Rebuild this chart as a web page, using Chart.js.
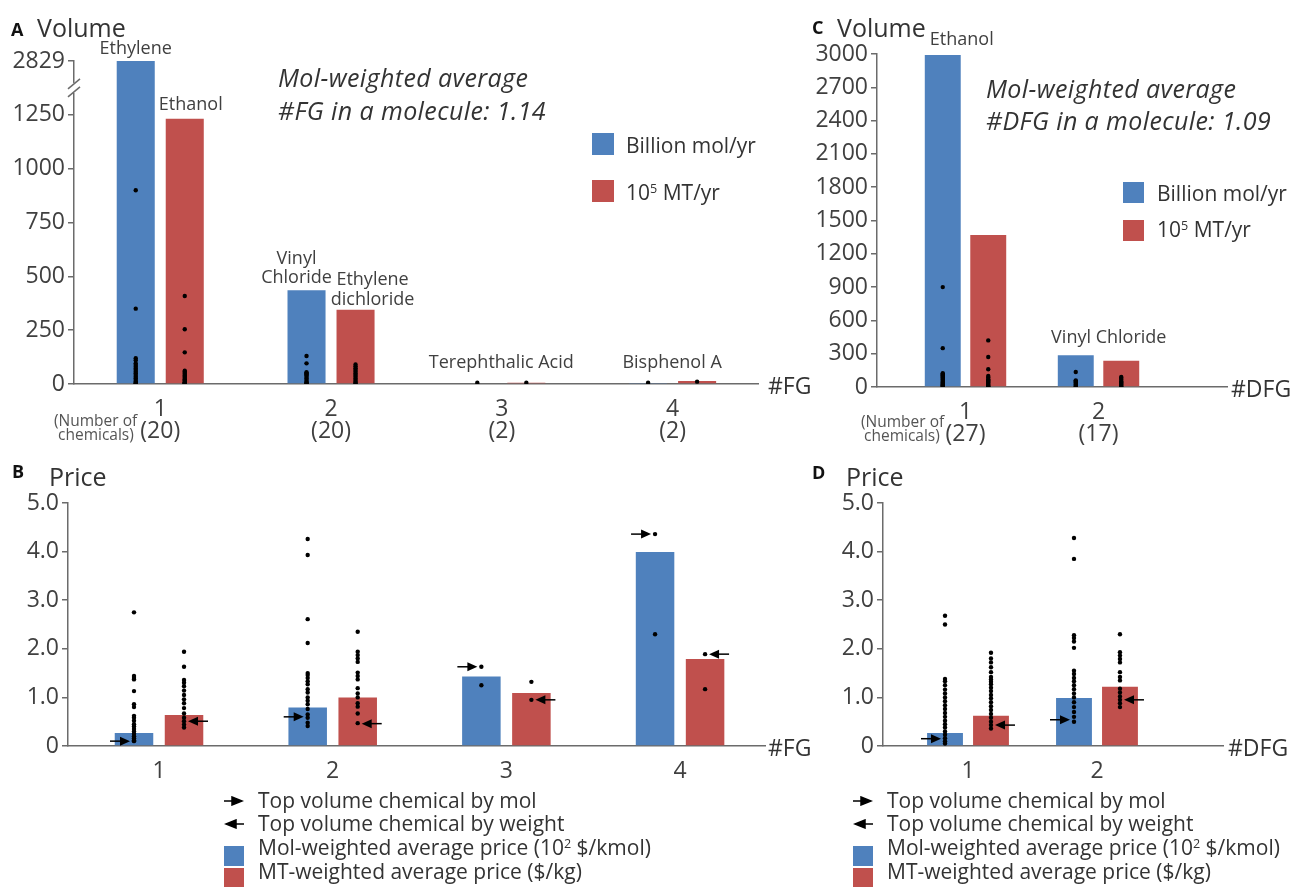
<!DOCTYPE html>
<html>
<head>
<meta charset="utf-8">
<script src="https://cdn.jsdelivr.net/npm/chart.js@4"></script>
<style>
  body { margin: 0; width: 1295px; height: 887px; position: relative; overflow: hidden; background: #fff;
         font-family: 'Open Sans', sans-serif; color: #404040; }
  canvas { position: absolute; }
  .t { position: absolute; white-space: nowrap; line-height: 1; transform: translateY(-50%); }
  .t sup { font-size: 0.6em; vertical-align: baseline; position: relative; top: -0.55em; }
  .sq { position: absolute; }
</style>
</head>
<body>
<canvas id="chartA" width="800" height="460" style="left:0;top:0"></canvas>
<canvas id="chartB" width="800" height="330" style="left:0;top:460px"></canvas>
<canvas id="chartC" width="495" height="460" style="left:800px;top:0"></canvas>
<canvas id="chartD" width="495" height="330" style="left:800px;top:460px"></canvas>
<script>
// ---- data: #FG panels (A, B) ----
const fgCats = [1, 2, 3, 4];
const fgCounts = [20, 20, 2, 2];
const volMolFG = [2829, 435, 4, 5];       // billion mol/yr
const volWtFG = [1232, 345, 6, 14];       // 10^5 MT/yr
const volMolFGDots = [
  [900, 350, 120, 110, 96, 88, 80, 72, 65, 57, 50, 42, 34, 27, 19, 12, 6, 3, 1],
  [130, 96, 55, 50, 45, 40, 33, 25, 18, 11, 6, 3, 1],
  [6],
  [6]
];
const volWtFGDots = [
  [409, 254, 147, 62, 57, 51, 46, 40, 34, 28, 22, 17, 11, 8, 5, 3, 2, 1],
  [91, 82, 73, 65, 57, 49, 42, 34, 26, 18, 11, 5, 1],
  [6],
  [11]
];
const volTicksFG = [0, 250, 500, 750, 1000, 1250, 1500];
const volTickLabelsFG = ['0', '250', '500', '750', '1000', '1250', '2829'];

const priceMolFG = [0.27, 0.79, 1.43, 3.99];
const priceWtFG = [0.64, 1.00, 1.09, 1.79];
const priceMolFGDots = [
  [2.75, 1.44, 1.40, 1.37, 1.13, 0.86, 0.80, 0.62, 0.58, 0.52, 0.45, 0.40, 0.35, 0.30, 0.25, 0.20, 0.16, 0.12, 0.10],
  [4.26, 3.93, 2.61, 2.12, 1.50, 1.46, 1.40, 1.33, 1.27, 1.17, 1.10, 1.00, 0.93, 0.86, 0.76, 0.65, 0.58, 0.48, 0.41],
  [1.63, 1.25],
  [4.36, 2.30]
];
const priceWtFGDots = [
  [1.94, 1.63, 1.36, 1.30, 1.23, 1.14, 1.05, 0.96, 0.88, 0.78, 0.67, 0.58, 0.51, 0.44, 0.38],
  [2.35, 1.94, 1.87, 1.80, 1.73, 1.51, 1.44, 1.37, 1.19, 1.08, 1.00, 0.88, 0.81, 0.67, 0.47],
  [1.32, 0.95],
  [1.89, 1.17]
];
const topMolPriceFG = [0.10, 0.60, 1.63, 4.36];
const topWtPriceFG = [0.51, 0.46, 0.95, 1.89];

// ---- data: #DFG panels (C, D) ----
const dfgCats = [1, 2];
const dfgCounts = [27, 17];
const volMolDFG = [2990, 285];
const volWtDFG = [1370, 237];
const volMolDFGDots = [
  [900, 350, 125, 115, 105, 95, 85, 75, 65, 55, 45, 38, 30, 22, 15, 8, 3],
  [135, 60, 50, 40, 30, 20, 10, 3]
];
const volWtDFGDots = [
  [420, 270, 160, 100, 85, 70, 60, 50, 40, 30, 20, 12, 5, 2],
  [90, 80, 65, 50, 40, 30, 20, 10, 3]
];
const volTicksDFG = [0, 300, 600, 900, 1200, 1500, 1800, 2100, 2400, 2700, 3000];

const priceMolDFG = [0.27, 0.99];
const priceWtDFG = [0.62, 1.22];
const priceMolDFGDots = [
  [2.68, 2.50, 1.38, 1.33, 1.25, 1.16, 1.08, 1.00, 0.92, 0.84, 0.76, 0.68, 0.60, 0.52, 0.45, 0.38, 0.30, 0.23, 0.16, 0.10, 0.05],
  [4.28, 3.85, 2.28, 2.22, 2.15, 2.02, 1.55, 1.48, 1.40, 1.33, 1.25, 1.17, 1.08, 1.00, 0.90, 0.80, 0.70, 0.60, 0.50]
];
const priceWtDFGDots = [
  [1.92, 1.80, 1.72, 1.62, 1.52, 1.42, 1.37, 1.32, 1.27, 1.20, 1.13, 1.05, 0.98, 0.90, 0.82, 0.74, 0.66, 0.58, 0.50, 0.43, 0.36],
  [2.30, 1.93, 1.86, 1.79, 1.72, 1.52, 1.42, 1.35, 1.18, 1.10, 1.02, 0.95, 0.88, 0.80]
];
const topMolPriceDFG = [0.15, 0.54];
const topWtPriceDFG = [0.43, 0.95];
const priceTicks = [0, 1, 2, 3, 4, 5];

const BLUE = '#4f81bd';
const RED = '#c0504d';
const AXIS = '#6b6b6b';
const TXT = '#404040';
Chart.defaults.font.family = "'Open Sans', sans-serif";

// arrows marking the top volume chemical
function drawArrow(ctx, tipX, y, dir) {
  ctx.beginPath();
  ctx.moveTo(tipX - dir * 20, y);
  ctx.lineTo(tipX - dir * 8, y);
  ctx.stroke();
  ctx.beginPath();
  ctx.moveTo(tipX, y);
  ctx.lineTo(tipX - dir * 10, y - 4.5);
  ctx.lineTo(tipX - dir * 10, y + 4.5);
  ctx.closePath();
  ctx.fill();
}

function arrowPlugin(cats, molY, wtY, off) {
  return {
    id: 'arrows',
    afterDatasetsDraw(chart) {
      const { ctx, scales: { x, y } } = chart;
      ctx.save();
      ctx.fillStyle = '#000';
      ctx.strokeStyle = '#000';
      ctx.lineWidth = 1.5;
      cats.forEach((c, i) => {
        drawArrow(ctx, x.getPixelForValue(c - off) - 4, y.getPixelForValue(molY[i]), 1);
        drawArrow(ctx, x.getPixelForValue(c + off) + 4, y.getPixelForValue(wtY[i]), -1);
      });
      ctx.restore();
    }
  };
}

// chemical names above bars
function barLabelPlugin(labels) {
  return {
    id: 'barLabels',
    afterDatasetsDraw(chart) {
      const { ctx, chartArea } = chart;
      ctx.save();
      ctx.font = "18px 'Open Sans'";
      ctx.fillStyle = TXT;
      ctx.textAlign = 'center';
      ctx.textBaseline = 'middle';
      labels.forEach(l => {
        const bar = chart.getDatasetMeta(l.ds).data[l.i];
        const top = Math.max(bar.y, chartArea.top);
        l.lines.forEach((s, k) => {
          ctx.fillText(s, bar.x + l.dx, top + l.dy - (l.lines.length - 1 - k) * 19.5);
        });
      });
      ctx.restore();
    }
  };
}

// broken y axis in panel A
const breakPlugin = {
  id: 'axisBreak',
  afterDraw(chart) {
    const { ctx } = chart;
    const y = chart.scales.y;
    const x0 = y.right;
    const yb = y.getPixelForValue(1375);
    ctx.save();
    ctx.fillStyle = '#fff';
    ctx.fillRect(x0 - 3, yb - 5, 6, 10);
    ctx.strokeStyle = AXIS;
    ctx.lineWidth = 1.5;
    [-4, 4].forEach(d => {
      ctx.beginPath();
      ctx.moveTo(x0 - 6, yb + d + 5);
      ctx.lineTo(x0 + 6, yb + d - 5);
      ctx.stroke();
    });
    ctx.restore();
  }
};

function panel(id, o) {
  const off = o.catPct / 4;
  const pts = (groups, sign) => groups.flatMap((g, i) => g.map(v => ({ x: o.cats[i] + sign * off, y: v })));
  const dot = { type: 'scatter', backgroundColor: '#000', borderColor: '#000', borderWidth: 0,
                pointRadius: 2.2, pointHoverRadius: 2.2, order: 0 };
  const bar = { type: 'bar', categoryPercentage: o.catPct, barPercentage: o.barPct, order: 1 };
  return new Chart(document.getElementById(id), {
    type: 'bar',
    data: {
      datasets: [
        { ...dot, data: pts(o.molDots, -1) },
        { ...dot, data: pts(o.wtDots, 1) },
        { ...bar, data: o.cats.map((c, i) => ({ x: c, y: o.mol[i] })), backgroundColor: BLUE },
        { ...bar, data: o.cats.map((c, i) => ({ x: c, y: o.wt[i] })), backgroundColor: RED }
      ]
    },
    options: {
      responsive: false,
      animation: false,
      layout: { padding: o.pad },
      plugins: { legend: { display: false }, tooltip: { enabled: false } },
      scales: {
        x: {
          type: 'linear', min: o.xMin, max: o.xMax, offset: false,
          grid: { display: false, offset: false },
          border: { color: AXIS, width: 1.5 },
          afterBuildTicks: s => { s.ticks = o.cats.map(v => ({ value: v })); },
          afterFit: s => { s.height = o.xH; },
          ticks: { color: TXT, font: { size: 23, lineHeight: 0.95 }, padding: 7, autoSkip: false, maxRotation: 0,
                   callback: o.xFmt }
        },
        y: {
          min: 0, max: o.yMax,
          afterBuildTicks: s => { s.ticks = o.yTicks.map(v => ({ value: v })); },
          afterFit: s => { s.width = o.yW; },
          grid: { drawOnChartArea: false, color: AXIS, tickLength: 6, lineWidth: 1.5 },
          border: { color: AXIS, width: 1.5 },
          ticks: { color: TXT, font: { size: 23 }, padding: 3, callback: o.yFmt }
        }
      }
    },
    plugins: o.plugins
  });
}

const priceFmt = v => (v === 0 ? '0' : v.toFixed(1));

panel('chartA', {
  cats: fgCats, mol: volMolFG, wt: volWtFG, molDots: volMolFGDots, wtDots: volWtFGDots,
  catPct: 0.574, barPct: 0.776, xMin: 0.495, xMax: 4.5, yMax: 1500, yTicks: volTicksFG,
  yFmt: v => volTickLabelsFG[volTicksFG.indexOf(v)],
  xFmt: (v, i) => [String(v), '(' + fgCounts[i] + ')'],
  pad: { top: 61, right: 42, bottom: 1, left: 0 }, yW: 74, xH: 75,
  plugins: [breakPlugin, barLabelPlugin([
    { ds: 2, i: 0, lines: ['Ethylene'], dx: 0, dy: -12 },
    { ds: 3, i: 0, lines: ['Ethanol'], dx: 6, dy: -14 },
    { ds: 2, i: 1, lines: ['Vinyl', 'Chloride'], dx: -10, dy: -12 },
    { ds: 3, i: 1, lines: ['Ethylene', 'dichloride'], dx: 17, dy: -10 },
    { ds: 2, i: 2, lines: ['Terephthalic Acid'], dx: 24, dy: -20 },
    { ds: 2, i: 3, lines: ['Bisphenol A'], dx: 24, dy: -20 }
  ])]
});

panel('chartB', {
  cats: fgCats, mol: priceMolFG, wt: priceWtFG, molDots: priceMolFGDots, wtDots: priceWtFGDots,
  catPct: 0.576, barPct: 0.77, xMin: 0.476, xMax: 4.489, yMax: 5, yTicks: priceTicks,
  yFmt: priceFmt, xFmt: v => String(v),
  pad: { top: 43, right: 35, bottom: 4, left: 0 }, yW: 68, xH: 40,
  plugins: [arrowPlugin(fgCats, topMolPriceFG, topWtPriceFG, 0.576 / 4)]
});

panel('chartC', {
  cats: dfgCats, mol: volMolDFG, wt: volWtDFG, molDots: volMolDFGDots, wtDots: volWtDFGDots,
  catPct: 0.684, barPct: 0.79, xMin: 0.3346, xMax: 2.966, yMax: 3000, yTicks: volTicksDFG,
  yFmt: v => String(v),
  xFmt: (v, i) => [String(v), '(' + dfgCounts[i] + ')'],
  pad: { top: 54, right: 68, bottom: 1, left: 0 }, yW: 77, xH: 72,
  plugins: [barLabelPlugin([
    { ds: 2, i: 0, lines: ['Ethanol'], dx: 19, dy: -15 },
    { ds: 2, i: 1, lines: ['Vinyl Chloride'], dx: 33, dy: -17 }
  ])]
});

panel('chartD', {
  cats: dfgCats, mol: priceMolDFG, wt: priceWtDFG, molDots: priceMolDFGDots, wtDots: priceWtDFGDots,
  catPct: 0.713, barPct: 0.78, xMin: 0.341, xMax: 2.977, yMax: 5, yTicks: priceTicks,
  yFmt: priceFmt, xFmt: v => String(v),
  pad: { top: 43, right: 72, bottom: 4, left: 0 }, yW: 83, xH: 40,
  plugins: [arrowPlugin(dfgCats, topMolPriceDFG, topWtPriceDFG, 0.713 / 4)]
});

// ---- page text ----
function txt(x, cy, html, css) {
  const d = document.createElement('div');
  d.className = 't';
  d.style.cssText = 'left:' + x + 'px;top:' + cy + 'px;' + (css || '');
  d.innerHTML = html;
  document.body.appendChild(d);
}
function sq(x, y, size, color) {
  const d = document.createElement('div');
  d.className = 'sq';
  d.style.cssText = 'left:' + x + 'px;top:' + y + 'px;width:' + size + 'px;height:' + size + 'px;background:' + color;
  document.body.appendChild(d);
}
function arrowIcon(x, cy, dir) {
  const path = dir > 0 ? 'M0 5 H10 M8 1 L18 5 L8 9 Z' : 'M20 5 H10 M12 1 L2 5 L12 9 Z';
  txt(x, cy, '<svg width="20" height="10"><path d="' + path + '" stroke="#000" stroke-width="1.5" fill="#000"/></svg>',
      'line-height:0');
}

const bold = 'font-weight:bold;font-size:18px;color:#111;';
const head = 'font-size:25px;color:#333;';
const ital = 'font-style:italic;font-size:25px;letter-spacing:0.4px;color:#333;';
const leg = 'font-size:21px;color:#333;';
const axl = 'font-size:23px;color:#333;';
const small = 'font-size:15.5px;color:#555;';
const leg2 = 'font-size:21px;color:#333;';

// A
txt(11, 29, 'A', bold);
txt(37, 27, 'Volume', head);
txt(278, 77, 'Mol-weighted average', ital);
txt(278, 110, '#FG in a molecule: 1.14', ital);
sq(592, 133, 22, BLUE);
txt(626, 145, 'Billion mol/yr', leg);
sq(592, 180, 22, RED);
txt(626, 192, '10<sup>5</sup> MT/yr', leg);
txt(768, 385, '#FG', axl);
txt(54, 421, '(Number of', small);
txt(58, 435, 'chemicals)', small);

// B
txt(12, 471, 'B', bold);
txt(49, 476, 'Price', head);
txt(768, 747, '#FG', axl);
arrowIcon(224, 801, 1);
txt(258, 800, 'Top volume chemical by mol', leg2);
arrowIcon(224, 824, -1);
txt(258, 823, 'Top volume chemical by weight', leg2);
sq(224, 846, 20, BLUE);
txt(258, 847, 'Mol-weighted average price (10<sup>2</sup> $/kmol)', leg2);
sq(224, 868, 20, RED);
txt(258, 871, 'MT-weighted average price ($/kg)', leg2);

// C
txt(812, 27, 'C', bold);
txt(837, 27, 'Volume', head);
txt(986, 88, 'Mol-weighted average', ital);
txt(986, 120, '#DFG in a molecule: 1.09', ital);
sq(1123, 182, 21, BLUE);
txt(1157, 193, 'Billion mol/yr', leg);
sq(1123, 220, 21, RED);
txt(1157, 229, '10<sup>5</sup> MT/yr', leg);
txt(1231, 388, '#DFG', axl);
txt(861, 422, '(Number of', small);
txt(864, 436, 'chemicals)', small);

// D
txt(812, 472, 'D', bold);
txt(846, 476, 'Price', head);
txt(1228, 747, '#DFG', axl);
arrowIcon(853, 801, 1);
txt(887, 800, 'Top volume chemical by mol', leg2);
arrowIcon(853, 824, -1);
txt(887, 823, 'Top volume chemical by weight', leg2);
sq(853, 846, 20, BLUE);
txt(887, 847, 'Mol-weighted average price (10<sup>2</sup> $/kmol)', leg2);
sq(853, 868, 20, RED);
txt(887, 871, 'MT-weighted average price ($/kg)', leg2);
</script>
</body>
</html>
